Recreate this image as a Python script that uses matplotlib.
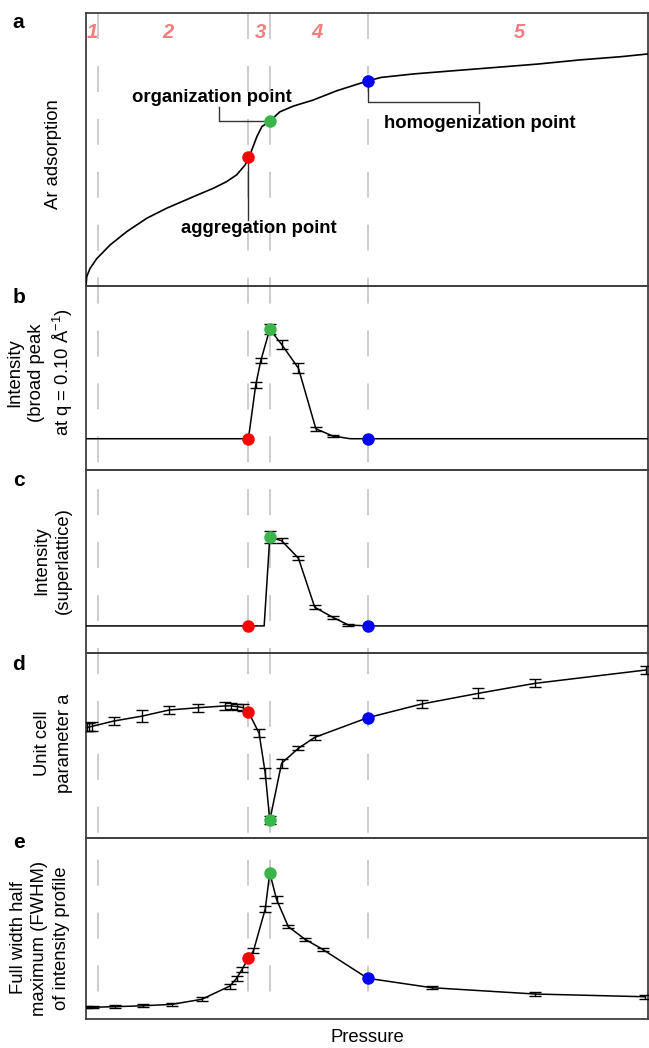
import numpy as np
import matplotlib
matplotlib.use('Agg')
import matplotlib.pyplot as plt
from matplotlib.lines import Line2D
from matplotlib import transforms

plt.rcParams['font.family'] = ['Liberation Sans', 'DejaVu Sans']
plt.rcParams['mathtext.fontset'] = 'custom'
plt.rcParams['mathtext.rm'] = 'Liberation Sans'
plt.rcParams['lines.scale_dashes'] = False

# x: pressure (arbitrary units, 0-100), y: arbitrary units
# transition points (dashed lines)
regions_x = [2.2, 28.9, 32.7, 50.1]
region_labels = ['1', '2', '3', '4', '5']
region_label_x = [1.1, 14.6, 31.0, 41.1, 77.1]

agg_x, org_x, hom_x = 28.9, 32.7, 50.1

# a: Ar adsorption isotherm
ads_x = [0, 0.12, 0.71, 1.9, 4.27, 7.24, 10.8, 14.36, 19.1, 22.65, 25.0, 26.8, 28.3,
         29.0, 30.4, 31.3, 32.7, 34.5, 36.9, 40.4, 44.6, 50.1, 52.5, 58.4, 65.7,
         73.1, 80.4, 87.8, 95.2, 100]
ads_y = [0, 3.4, 6.4, 10.0, 15.0, 19.9, 24.8, 28.5, 32.7, 35.8, 38.2, 40.7, 44.3,
         47.1, 54.7, 58.4, 60.4, 63.8, 65.9, 68.1, 71.5, 75.1, 76.4, 77.7, 78.9,
         80.1, 81.3, 82.8, 84.0, 85.0]
ads_pts_y = [47.1, 60.4, 75.1]

# b: broad peak intensity
bp_x = [0, 28.9, 30.2, 31.1, 32.7, 34.8, 37.8, 40.9, 43.9, 47.0, 50.1, 100]
bp_y = [17.0, 17.0, 46.2, 59.4, 76.5, 68.3, 55.3, 22.4, 18.5, 17.0, 17.0, 17.0]
bp_err = [0, 0, 1.4, 1.5, 2.7, 2.4, 2.7, 1.2, 0.7, 0, 0, 0]
bp_pts_y = [17.0, 76.5, 17.0]

# c: superlattice intensity
sl_x = [0, 28.9, 31.7, 32.7, 34.8, 37.8, 40.7, 43.9, 46.7, 50.1, 100]
sl_y = [14.8, 14.8, 14.8, 63.2, 61.4, 51.8, 25.0, 19.5, 15.3, 14.8, 14.8]
sl_err = [0, 0, 0, 3.3, 1.4, 1.2, 1.1, 0.9, 0.5, 0, 0]
sl_pts_y = [14.8, 63.2, 14.8]

# d: unit cell parameter a
uc_x = [0.2, 0.6, 1.0, 4.9, 10.0, 14.8, 19.9, 24.7, 25.8, 26.9, 27.9, 28.9, 30.8,
        31.9, 32.7, 34.8, 37.8, 40.7, 50.1, 59.7, 69.8, 79.9, 99.6]
uc_y = [59.8, 60.0, 60.3, 63.2, 65.9, 69.2, 70.4, 71.4, 71.4, 71.0, 70.5, 68.2, 56.6,
        35.0, 9.5, 40.4, 48.5, 54.4, 65.0, 72.4, 78.2, 83.6, 90.8]
uc_err = [2.2, 2.2, 2.2, 2.2, 3.2, 2.2, 2.2, 2.2, 1.6, 1.6, 2.0, 0, 2.2,
          2.7, 2.2, 2.5, 1.2, 1.4, 0, 2.2, 2.7, 2.2, 2.2]
uc_pts_y = [68.2, 9.5, 65.0]

# e: FWHM of intensity profile
fw_x = [0.2, 1.3, 5.1, 10.1, 15.3, 20.6, 25.6, 26.8, 27.7, 28.9, 29.8, 31.9, 32.7,
        33.9, 36.0, 39.0, 42.1, 50.1, 61.5, 79.9, 99.4]
fw_y = [6.5, 6.5, 6.8, 7.3, 8.1, 10.9, 18.2, 22.5, 27.1, 33.5, 37.7, 60.8, 80.8,
        66.1, 51.0, 44.0, 38.5, 22.5, 17.3, 13.8, 12.3]
fw_err = [0.6, 0.6, 0.8, 0.8, 0.8, 1.1, 1.4, 1.4, 1.4, 0, 1.4, 1.8, 0,
          1.8, 0.8, 0.8, 0.8, 0, 0.8, 1.1, 1.1]
fw_pts_y = [33.5, 80.8, 22.5]

point_colors = ['#ff0000', '#3ab54a', '#0000ff']
W, H = 649, 1048
panel_edges = [13, 286, 470, 653, 838, 1019]
fs = 13.3

fig = plt.figure(figsize=(W / 100, H / 100), dpi=100)
axes = []
for i in range(5):
    top, bot = panel_edges[i], panel_edges[i + 1]
    ax = fig.add_axes([86 / W, 1 - bot / H, 562 / W, (bot - top) / H])
    ax.set_facecolor('none')
    ax.set_xlim(0, 100)
    ax.set_ylim(0, 100)
    ax.set_xticks([])
    ax.set_yticks([])
    for s in ax.spines.values():
        s.set_color('#404040')
        s.set_linewidth(1.3)
    axes.append(ax)

ax_a, ax_b, ax_c, ax_d, ax_e = axes
pts_x = [agg_x, org_x, hom_x]


def draw_points(ax, ys):
    for x, y, c in zip(pts_x, ys, point_colors):
        ax.plot(x, y, 'o', color=c, markersize=9, zorder=5, markeredgewidth=0)


def draw_series(ax, x, y, err, pts_y):
    ax.plot(x, y, color='black', lw=1.1, zorder=3)
    ex = [xi for xi, e in zip(x, err) if e > 0]
    ey = [yi for yi, e in zip(y, err) if e > 0]
    ee = [e for e in err if e > 0]
    ax.errorbar(ex, ey, yerr=ee, fmt='none', ecolor='black', elinewidth=1,
                capsize=4.2, capthick=1, zorder=4)
    draw_points(ax, pts_y)


# panel a
ax_a.plot(ads_x, ads_y, color='black', lw=1.2, zorder=3)
draw_points(ax_a, ads_pts_y)
for lx, lab in zip(region_label_x, region_labels):
    ax_a.text(lx, 92.7, lab, color='#f47c7c', fontsize=14.5, fontweight='bold',
              fontstyle='italic', ha='center', va='center')

lead = dict(color='#333333', lw=1.0, zorder=2)
ax_a.plot([org_x, 23.6, 23.6], [60.4, 60.4, 65.7], **lead)
ax_a.text(22.4, 69.2, 'organization point', fontsize=fs, fontweight='bold',
          ha='center', va='center')
ax_a.plot([agg_x, agg_x], [47.1, 24.2], **lead)
ax_a.text(30.7, 21.2, 'aggregation point', fontsize=fs, fontweight='bold',
          ha='center', va='center')
ax_a.plot([hom_x, hom_x, 69.9, 69.9], [75.1, 67.5, 67.5, 63.3], **lead)
ax_a.text(70.1, 59.6, 'homogenization point', fontsize=fs, fontweight='bold',
          ha='center', va='center')

draw_series(ax_b, bp_x, bp_y, bp_err, bp_pts_y)
draw_series(ax_c, sl_x, sl_y, sl_err, sl_pts_y)
draw_series(ax_d, uc_x, uc_y, uc_err, uc_pts_y)
draw_series(ax_e, fw_x, fw_y, fw_err, fw_pts_y)

ax_e.set_xlabel('Pressure', fontsize=fs, labelpad=7)

# dashed transition lines running through all panels
trans = transforms.blended_transform_factory(ax_e.transData, fig.transFigure)
for rx in regions_x:
    ln = Line2D([rx, rx], [1 - 13 / H, 1 - 1019 / H], transform=trans,
                color='#c8c8c8', lw=1.3, linestyle=(0, (18.7, 19.4)), zorder=-1)
    fig.add_artist(ln)

# y labels
ylabels = [
    ('Ar adsorption', 54, 154),
    ('Intensity\n(broad peak\nat q = 0.10 Å$^{-1}$)', 40.7, 372.5),
    ('Intensity\n(superlattice)', 52.5, 561),
    ('Unit cell\nparameter a', 53.7, 743.5),
    ('Full width half\nmaximum (FWHM)\nof intensity profile', 40, 938),
]
for txt, px, py in ylabels:
    fig.text(px / W, 1 - py / H, txt, rotation=90, fontsize=fs, ha='center',
             va='center', multialignment='center', linespacing=1.35)

panel_letters = ['a', 'b', 'c', 'd', 'e']
letter_y = [23, 297, 480, 665, 842]
for lab, py in zip(panel_letters, letter_y):
    fig.text(18.6 / W, 1 - py / H, lab, fontsize=15, fontweight='bold',
             ha='center', va='center')

fig.savefig('out.png', dpi=100)
